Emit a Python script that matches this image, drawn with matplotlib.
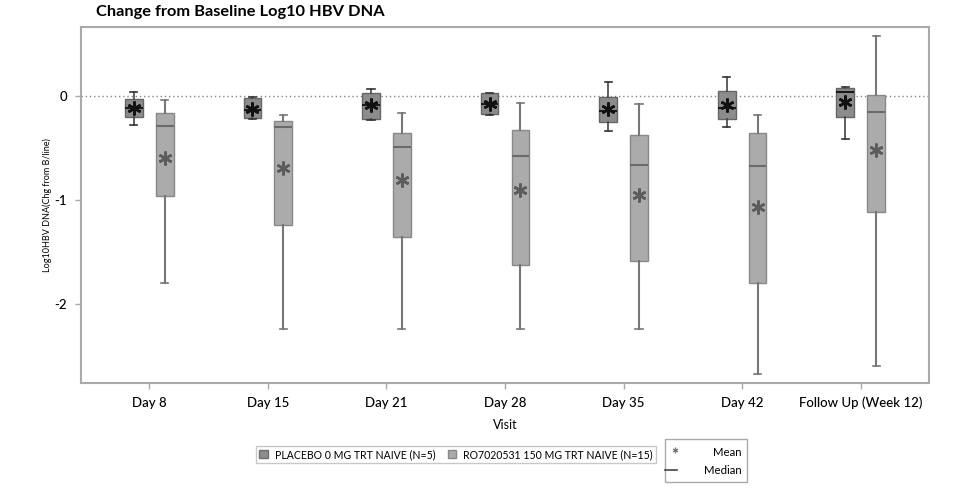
import matplotlib
matplotlib.use("Agg")
import matplotlib.pyplot as plt
from matplotlib.lines import Line2D
from matplotlib.patches import Patch, Rectangle

visits = ["Day 8", "Day 15", "Day 21", "Day 28", "Day 35", "Day 42", "Follow Up (Week 12)"]

# Placebo summary stats
pl_whislo = [-0.28, -0.22, -0.23, -0.18, -0.34, -0.295, -0.41]
pl_q1     = [-0.205, -0.21, -0.22, -0.17, -0.25, -0.225, -0.20]
pl_med    = [-0.12, -0.135, -0.09, -0.08, -0.145, -0.12, 0.04]
pl_mean   = [-0.12, -0.13, -0.09, -0.08, -0.13, -0.09, -0.06]
pl_q3     = [-0.03, -0.02, 0.025, 0.025, -0.01, 0.05, 0.08]
pl_whishi = [0.035, -0.01, 0.065, 0.03, 0.13, 0.18, 0.09]

# RO7020531 summary stats
ro_whislo = [-1.80, -2.24, -2.24, -2.24, -2.24, -2.67, -2.60]
ro_q1     = [-0.96, -1.24, -1.36, -1.63, -1.59, -1.80, -1.12]
ro_med    = [-0.29, -0.295, -0.49, -0.58, -0.66, -0.67, -0.15]
ro_mean   = [-0.60, -0.69, -0.81, -0.90, -0.95, -1.07, -0.52]
ro_q3     = [-0.16, -0.24, -0.36, -0.33, -0.375, -0.36, 0.01]
ro_whishi = [-0.04, -0.18, -0.16, -0.07, -0.08, -0.18, 0.58]

legend_labels = ["PLACEBO 0 MG TRT NAIVE (N=5)", "RO7020531 150 MG TRT NAIVE (N=15)"]
stat_labels = ["Mean", "Median"]

W, H = 954, 491
fig = plt.figure(figsize=(W / 100, H / 100), dpi=100)
ax = fig.add_axes([81/W, 1-383/H, (929-81)/W, (383-27)/H])

def stats(lo, q1, med, mean, q3, hi):
    return [dict(whislo=a, q1=b, med=c, mean=d, q3=e, whishi=f, fliers=[])
            for a, b, c, d, e, f in zip(lo, q1, med, mean, q3, hi)]

pos = list(range(len(visits)))
off = 0.13
w = 0.15

pl_col = "#8c8c8c"
ro_col = "#ababab"

ax.axhline(0, color="#888888", linestyle=(0, (1, 2)), linewidth=1.0, zorder=1)

ax.bxp(stats(pl_whislo, pl_q1, pl_med, pl_mean, pl_q3, pl_whishi),
       positions=[p - off for p in pos], widths=w, showmeans=True, patch_artist=True,
       boxprops=dict(facecolor=pl_col, edgecolor="#666666", linewidth=1.0),
       medianprops=dict(color="#1a1a1a", linewidth=1.5),
       whiskerprops=dict(color="#444444", linewidth=1.2),
       capprops=dict(color="#333333", linewidth=1.2),
       capwidths=0.06,
       meanprops=dict(marker=(6, 2, 0), markersize=10, markeredgecolor="#111111",
                      markeredgewidth=1.8, markerfacecolor="#111111"),
       manage_ticks=False, zorder=3)

ax.bxp(stats(ro_whislo, ro_q1, ro_med, ro_mean, ro_q3, ro_whishi),
       positions=[p + off for p in pos], widths=w, showmeans=True, patch_artist=True,
       boxprops=dict(facecolor=ro_col, edgecolor="#888888", linewidth=1.0),
       medianprops=dict(color="#6a6a6a", linewidth=1.5),
       whiskerprops=dict(color="#777777", linewidth=1.5),
       capprops=dict(color="#777777", linewidth=1.2),
       capwidths=0.06,
       meanprops=dict(marker=(6, 2, 0), markersize=10, markeredgecolor="#5c5c5c",
                      markeredgewidth=1.8, markerfacecolor="#5c5c5c"),
       manage_ticks=False, zorder=3)

ax.set_xlim(-0.576, 6.576)
ax.set_ylim(-2.76, 0.663)
ax.set_xticks(pos)
ax.set_xticklabels(visits, fontsize=9.5, family="Lato", fontweight="medium")
ax.set_yticks([-2, -1, 0])
ax.set_yticklabels(["-2", "-1", "0"], fontsize=9.5, family="Lato", fontweight="medium")
ax.tick_params(axis="x", color="#aaaaaa", length=4, width=1, pad=6)
ax.tick_params(axis="y", color="#aaaaaa", length=4, width=1, pad=6)
for s in ax.spines.values():
    s.set_color("#aaaaaa")
    s.set_linewidth(1.5)

ax.set_xlabel("Visit", fontsize=9, family="Lato", labelpad=7)
ax.set_ylabel("Log10HBV DNA(Chg from B/line)", fontsize=6.5, family="Lato", labelpad=2)

fig.text(96/W, 1-12/H, "Change from Baseline Log10 HBV DNA", fontsize=11.8,
         fontweight="bold", family="Lato", va="center", ha="left")

handles = [Patch(facecolor=pl_col, edgecolor="#6e6e6e"),
           Patch(facecolor=ro_col, edgecolor="#888888")]
leg1 = fig.legend(handles, legend_labels, loc="center left",
                  bbox_to_anchor=(251/W, 1-454.5/H), ncol=2, frameon=True,
                  prop=dict(family="Lato", size=7.6),
                  handlelength=0.8, handleheight=0.8, handletextpad=0.7,
                  columnspacing=1.1, borderpad=0.3, fancybox=False)
leg1.get_frame().set_edgecolor("#bbbbbb")
leg1.get_frame().set_linewidth(1.0)

# Mean / Median key box
fig.add_artist(Rectangle((665/W, 1-482/H), (747-665)/W, (482-439)/H,
                         transform=fig.transFigure, fill=False,
                         edgecolor="#aaaaaa", linewidth=1.0))
fig.add_artist(Line2D([675/W], [1-450/H], transform=fig.transFigure,
                      marker=(6, 2, 0), markersize=4, color="#777777",
                      markeredgewidth=0.8, linestyle="none"))
fig.add_artist(Line2D([665/W, 677/W], [1-470/H, 1-470/H], transform=fig.transFigure,
                      color="#444444", linewidth=1.2))
fig.text(742/W, 1-453/H, stat_labels[0], fontsize=8.2, family="Lato",
         ha="right", va="center")
fig.text(742/W, 1-470/H, stat_labels[1], fontsize=8.2, family="Lato",
         ha="right", va="center")

fig.savefig("out.png", dpi=100)
